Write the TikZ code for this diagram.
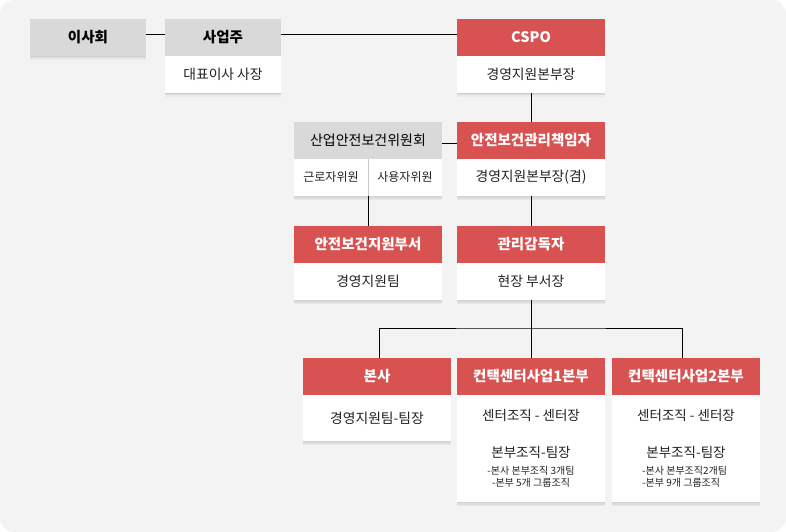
\documentclass[tikz,border=0pt]{standalone}
\usepackage{fontspec}
\setmainfont{Noto Sans CJK KR}
\usetikzlibrary{shadows}
\definecolor{bgc}{HTML}{F3F3F3}
\definecolor{boxred}{HTML}{D95252}
\definecolor{hgray}{HTML}{D9D9D9}
\definecolor{divgray}{HTML}{C8C8C8}
\definecolor{txtc}{HTML}{222222}
\begin{document}
\begin{tikzpicture}[x=1pt,y=-1pt,
  sh/.style={general shadow={fill=black,opacity=.05,shadow yshift=-1pt},
             general shadow={fill=black,opacity=.05,shadow yshift=-2.5pt},
             general shadow={fill=black,opacity=.04,shadow yshift=-4pt}},
  box/.style={rectangle, inner sep=0pt, outer sep=0pt, minimum height=37pt, minimum width=148pt, sh},
  redh/.style={box, fill=boxred, text=white, font=\bfseries\fontsize{14.5}{16}\selectfont},
  grayh/.style={box, fill=hgray, text=black, font=\bfseries\fontsize{14.5}{16}\selectfont},
  bodyb/.style={box, fill=white, text=txtc, font=\fontsize{13.8}{16}\selectfont},
  txt/.style={inner sep=0pt, text=txtc, font=\fontsize{13.5}{16}\selectfont},
  smalltxt/.style={inner sep=0pt, text=txtc, font=\fontsize{10}{12}\selectfont},
  conn/.style={draw=black, line width=1pt}
]
\useasboundingbox (0,0) rectangle (786,532);
\fill[white] (0,0) rectangle (786,532);
\fill[bgc, rounded corners=14pt] (0,0) rectangle (786,532);

% top row
\node[grayh, minimum width=116pt] (board) at (88,37.5) {이사회};
\node[grayh, minimum width=116pt] (ownerH) at (223,37.5) {사업주};
\node[bodyb, minimum width=116pt] (ownerB) at (223,74.5) {대표이사 사장};
\node[redh] (cspoH) at (531,37.5) {CSPO};
\node[bodyb] (cspoB) at (531,74.5) {경영지원본부장};

% second row
\node[grayh, font=\fontsize{14}{16}\selectfont] (commH) at (368,140.5) {산업안전보건위원회};
\node[bodyb, minimum width=74pt, font=\fontsize{12}{14}\selectfont] (workB) at (331,177.5) {근로자위원};
\node[bodyb, minimum width=74pt, font=\fontsize{12}{14}\selectfont] (userB) at (405,177.5) {사용자위원};
\draw[divgray, line width=1pt] (workB.north east) -- (workB.south east);
\node[redh] (chiefH) at (531,140.5) {안전보건관리책임자};
\node[bodyb] (chiefB) at (531,177.5) {경영지원본부장(겸)};

% third row
\node[redh] (suppH) at (368,244.5) {안전보건지원부서};
\node[bodyb] (suppB) at (368,281.5) {경영지원팀};
\node[redh] (mgrH) at (531,244.5) {관리감독자};
\node[bodyb] (mgrB) at (531,281.5) {현장 부서장};

% bottom row
\node[redh] (hqH) at (377,376.5) {본사};
\node[bodyb, minimum height=46pt] (hqB) at (377,418) {경영지원팀-팀장};

\node[redh] (cc1H) at (531,376.5) {컨택센터사업1본부};
\node[bodyb, minimum height=107pt] (cc1B) at (531,448.5) {};
\node[txt] (cc1a) at (531,415) {센터조직 - 센터장};
\node[txt] (cc1b) at (531,452) {본부조직-팀장};
\node[smalltxt] (cc1c) at (531,471) {-본사 본부조직 3개팀};
\node[smalltxt] (cc1d) at (531,483) {-본부 5개 그룹조직};

\node[redh] (cc2H) at (686,376.5) {컨택센터사업2본부};
\node[bodyb, minimum height=107pt] (cc2B) at (686,448.5) {};
\node[txt] (cc2a) at (686,415) {센터조직 - 센터장};
\node[txt] (cc2b) at (686,452) {본부조직-팀장};
\node[smalltxt, anchor=west] (cc2c) at (642,471) {-본사 본부조직2개팀};
\node[smalltxt, anchor=west] (cc2d) at (642,483) {-본부 9개 그룹조직};

% connectors
\draw[conn] ([yshift=2.5pt]board.east) -- ([yshift=2.5pt]ownerH.west);
\draw[conn] ([yshift=2.5pt]ownerH.east) -- ([yshift=2.5pt]cspoH.west);
\draw[conn] (cspoB.south) -- (chiefH.north);
\draw[conn] ([yshift=-2.5pt]commH.east) -- ([yshift=-2.5pt]chiefH.west);
\draw[conn] (workB.south east) -- (suppH.north);
\draw[conn] (chiefB.south) -- (mgrH.north);
\draw[conn] (mgrB.south) -- (cc1H.north);
\draw[conn] ([xshift=2pt]hqH.north) |- coordinate (jn) (mgrB.south |- 0,328) -| ([xshift=-4pt]cc2H.north);
\end{tikzpicture}
\end{document}
